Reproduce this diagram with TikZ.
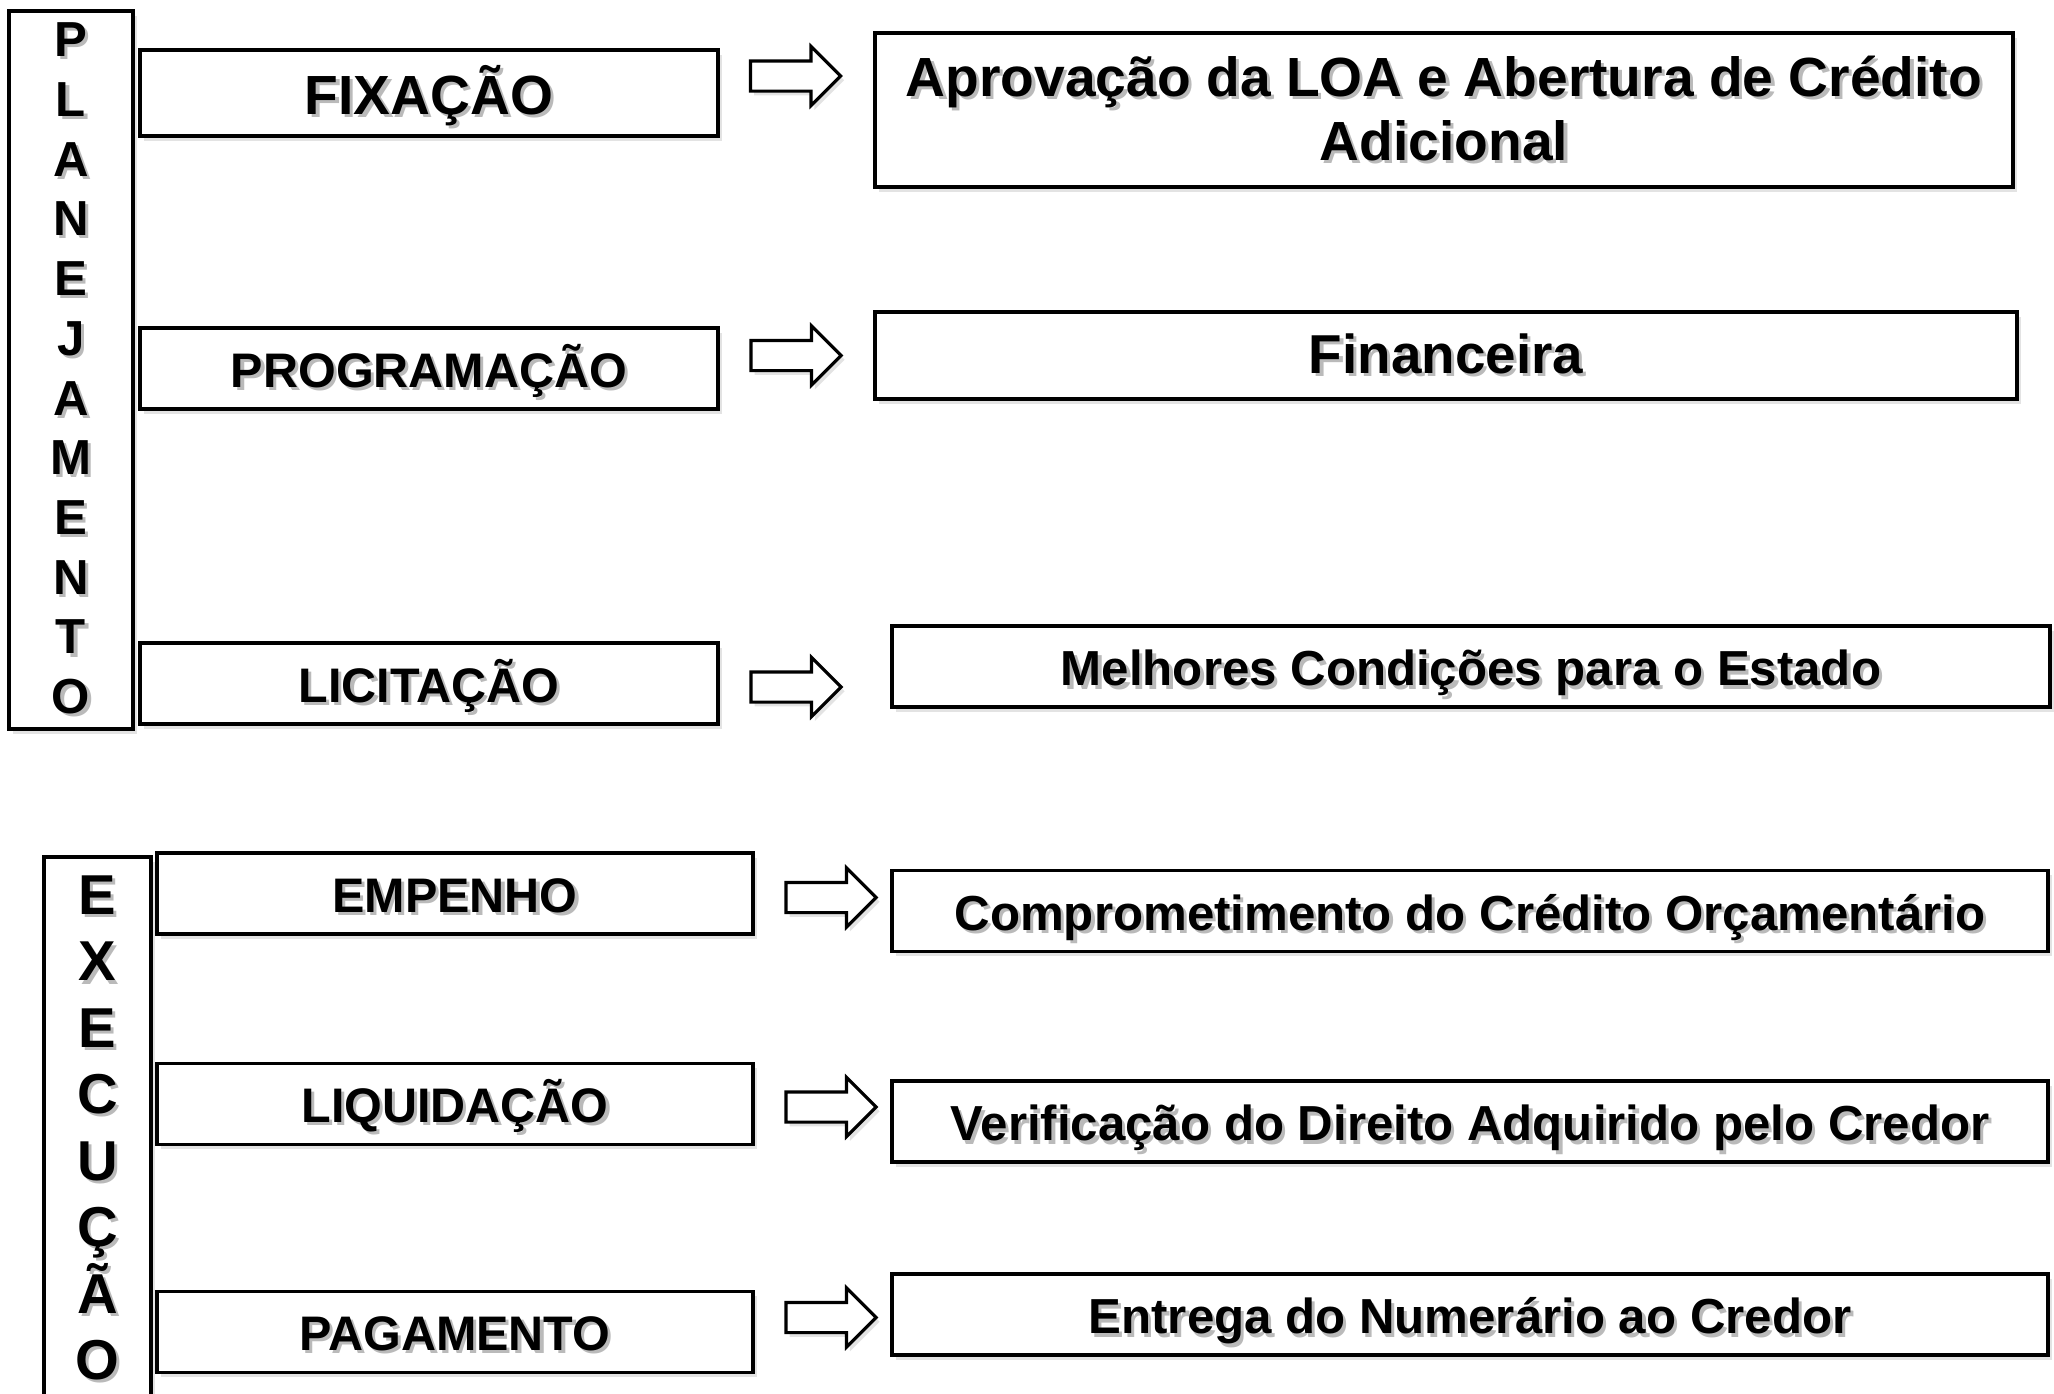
\documentclass[tikz,border=0pt]{standalone}
\usepackage{fontspec}
\setmainfont{Liberation Sans}
\usetikzlibrary{shapes,arrows}
\usetikzlibrary{shadows}

% text with a soft grey shadow
\newcommand{\shtxt}[1]{\leavevmode\rlap{\kern0.9pt\raisebox{-0.9pt}{\textcolor{black!27}{#1}}}#1}

\begin{document}
\begin{tikzpicture}[every node/.style={font=\bfseries},
		box/.style={draw, rectangle, line width=1pt, fill=white, inner sep=0pt,
			drop shadow={shadow xshift=1.2pt, shadow yshift=-1.4pt, opacity=0.22}},
		phase/.style={box, minimum width=5.78cm, minimum height=0.81cm,
			text height=10.9pt, text depth=0.2pt,
			font=\bfseries\fontsize{13.8}{16}\selectfont},
		goal/.style={box, minimum width=11.56cm, minimum height=0.81cm,
			text height=11.2pt, text depth=0.2pt,
			font=\bfseries\fontsize{14}{16}\selectfont},
		side/.style={box, align=center},
		bigarrow/.style={draw, single arrow, fill=white, line width=0.9pt,
			inner xsep=0pt, inner ysep=0.135cm,
			minimum height=0.9cm, single arrow head extend=0.145cm,
			drop shadow={shadow xshift=1pt, shadow yshift=-1.2pt, opacity=0.22}}]
		\useasboundingbox (0,0) rectangle (20.54,-13.93);
		%% Planejamento
		\node [side, minimum width=1.24cm, minimum height=7.18cm,
			font=\bfseries\fontsize{14}{17}\selectfont] at (0.71,-3.70) (plan)
			{\shtxt{P}\\\shtxt{L}\\\shtxt{A}\\\shtxt{N}\\\shtxt{E}\\\shtxt{J}\\
			\shtxt{A}\\\shtxt{M}\\\shtxt{E}\\\shtxt{N}\\\shtxt{T}\\\shtxt{O}};
		\node [phase, minimum height=0.86cm, text height=12.3pt,
			font=\bfseries\fontsize{15.7}{18}\selectfont]
			at (4.29,-0.93) (fix) {\shtxt{FIXAÇÃO}};
		\node [phase] at (4.29,-3.685) (prog) {\shtxt{PROGRAMAÇÃO}};
		\node [phase] at (4.29,-6.835) (lic) {\shtxt{LICITAÇÃO}};
		\node [box, minimum width=11.38cm, minimum height=1.54cm, align=center,
			font=\bfseries\fontsize{15.7}{18.4}\selectfont] at (14.44,-1.10) (aprov)
			{\shtxt{Aprovação da LOA e Abertura de Crédito}\\\shtxt{Adicional}};
		\node [box, minimum width=11.42cm, minimum height=0.87cm,
			font=\bfseries\fontsize{15.6}{18}\selectfont] at (14.46,-3.555) (fin) {\shtxt{Financeira}};
		\node [goal, minimum width=11.58cm] at (14.71,-6.665) (melh) {\shtxt{Melhores Condições para o Estado}};
		\node [bigarrow] at (7.88,-0.76) (a1) {};
		\node [bigarrow] at (7.885,-3.555) (a2) {};
		\node [bigarrow] at (7.885,-6.87) (a3) {};
		%% Execucao
		\node [side, minimum width=1.07cm, inner ysep=0.19cm, anchor=north,
			font=\bfseries\fontsize{16}{18.9}\selectfont] at (0.975,-8.55) (exec)
			{\shtxt{E}\\\shtxt{X}\\\shtxt{E}\\\shtxt{C}\\\shtxt{U}\\\shtxt{Ç}\\\shtxt{Ã}\\\shtxt{O}};
		\node [phase, minimum width=5.96cm] at (4.55,-8.935) (emp) {\shtxt{EMPENHO}};
		\node [phase, minimum width=5.96cm] at (4.55,-11.04) (liq) {\shtxt{LIQUIDAÇÃO}};
		\node [phase, minimum width=5.96cm] at (4.55,-13.32) (pag) {\shtxt{PAGAMENTO}};
		\node [goal] at (14.70,-9.11) (comp) {\shtxt{Comprometimento do Crédito Orçamentário}};
		\node [goal] at (14.70,-11.215) (verif) {\shtxt{Verificação do Direito Adquirido pelo Credor}};
		\node [goal] at (14.70,-13.145) (entr) {\shtxt{Entrega do Numerário ao Credor}};
		\node [bigarrow] at (8.235,-8.975) (a4) {};
		\node [bigarrow] at (8.235,-11.07) (a5) {};
		\node [bigarrow] at (8.235,-13.175) (a6) {};
	\end{tikzpicture}
\end{document}
